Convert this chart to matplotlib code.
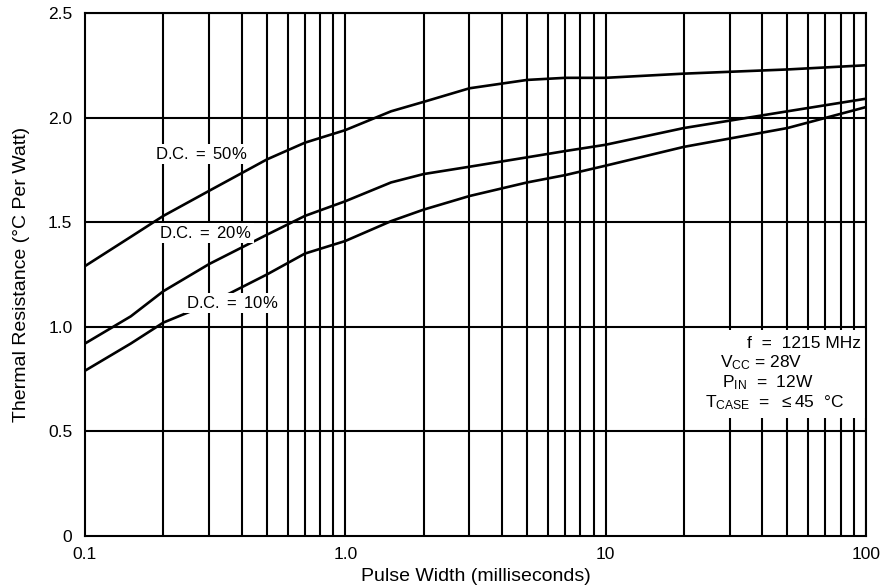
import numpy as np
import matplotlib
matplotlib.use('Agg')
import matplotlib.pyplot as plt
from matplotlib.patches import Rectangle

plt.rcParams['font.family'] = ['Liberation Sans', 'DejaVu Sans']
plt.rcParams['mathtext.fontset'] = 'custom'
plt.rcParams['mathtext.rm'] = 'Liberation Sans'
plt.rcParams['mathtext.it'] = 'Liberation Sans'

# pulse width (ms) and thermal resistance (C/W)
pulse = [0.1, 0.15, 0.2, 0.3, 0.5, 0.7, 1.0, 1.5, 2.0, 3.0, 5.0, 7.0, 10, 20, 50, 100]
dc50 = [1.29, 1.43, 1.53, 1.65, 1.80, 1.88, 1.94, 2.03, 2.075, 2.14, 2.18, 2.19, 2.19, 2.21, 2.23, 2.25]
dc20 = [0.92, 1.05, 1.17, 1.30, 1.44, 1.53, 1.60, 1.69, 1.73, 1.765, 1.81, 1.84, 1.87, 1.95, 2.03, 2.09]
dc10 = [0.79, 0.92, 1.02, 1.11, 1.25, 1.35, 1.41, 1.505, 1.56, 1.625, 1.69, 1.725, 1.77, 1.86, 1.95, 2.05]

xticks = [0.1, 1.0, 10, 100]
xtick_labels = ['0.1', '1.0', '10', '100']
yticks = [0, 0.5, 1.0, 1.5, 2.0, 2.5]
ytick_labels = ['0', '0.5', '1.0', '1.5', '2.0', '2.5']

cond_lines = ['f  =  1215 MHz',
              'V$_{\\mathrm{CC}}$ = 28V',
              'P$_{\\mathrm{IN}}$  =  12W',
              'T$_{\\mathrm{CASE}}$  =  $\\leq$45  \u00b0C']
cond_x = [34.9, 27.5, 28.0, 24.1]   # left edge of each line

fig = plt.figure(figsize=(8.88, 5.87), dpi=100)
ax = fig.add_axes([0.0957, 0.0869, 0.8793, 0.8910])
ax.set_xscale('log')
ax.set_xlim(0.1, 100)
ax.set_ylim(0, 2.5)

# log grid, drawn heavy like the printed sheet
for dec in [0.1, 1, 10]:
    for k in range(2, 11):
        ax.axvline(dec * k, color='black', lw=1.5, zorder=1)
for y in yticks[1:]:
    ax.axhline(y, color='black', lw=1.5, zorder=1)

for vals in (dc50, dc20, dc10):
    ax.plot(pulse, vals, color='black', lw=1.9, zorder=2)

box = dict(facecolor='white', edgecolor='none', pad=1.5)
ax.text(0.28, 1.826, 'D.C. $=$ 50%', fontsize=12, ha='center', va='center', bbox=box, zorder=3)
ax.text(0.29, 1.45, 'D.C. $=$ 20%', fontsize=12, ha='center', va='center', bbox=box, zorder=3)
ax.text(0.367, 1.114, 'D.C. $=$ 10%', fontsize=12, ha='center', va='center', bbox=box, zorder=3)

# white panel behind the conditions block (grid is blanked there)
ax.add_patch(Rectangle((23.1, 0.565), 99.3 - 23.1, 0.42, facecolor='white',
                       edgecolor='none', zorder=2.5))
for i, line in enumerate(cond_lines):
    ax.text(cond_x[i], 0.922 - i * 0.0955, line, fontsize=12.5, ha='left', va='center',
            zorder=3)

ax.set_xticks(xticks)
ax.set_xticklabels(xtick_labels)
ax.set_xticks([], minor=True)
ax.set_yticks(yticks)
ax.set_yticklabels(ytick_labels)
ax.tick_params(axis='x', length=0, labelsize=12.5, pad=8)
ax.tick_params(axis='y', length=0, labelsize=12.5, pad=9)
for s in ax.spines.values():
    s.set_linewidth(1.5)
ax.set_xlabel('Pulse Width (milliseconds)', fontsize=14, labelpad=4)
ax.set_ylabel('Thermal Resistance (\u00b0C Per Watt)', fontsize=14, labelpad=13)

fig.savefig('out.png', dpi=100)
